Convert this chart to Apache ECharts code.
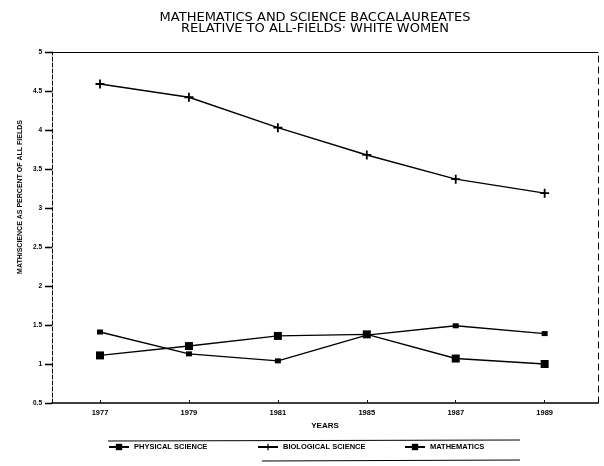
<!DOCTYPE html>
<html><head><meta charset="utf-8">
<script src="https://cdn.jsdelivr.net/npm/echarts@6/dist/echarts.min.js"></script>
<style>html,body{margin:0;padding:0;background:#fff}#c{width:604px;height:466px}</style>
</head><body><div id="c"></div>
<script>
const years = ['1977', '1979', '1981', '1985', '1987', '1989'];
const physicalScience = [1.11, 1.23, 1.36, 1.38, 1.07, 1.00];
const biologicalScience = [4.59, 4.42, 4.03, 3.68, 3.37, 3.19];
const mathematics = [1.41, 1.13, 1.04, 1.37, 1.49, 1.39];

// x positions: category index shifted by a left margin (in category units)
const X0 = 0.54, XMAX = 6.14;
const xPos = years.map((_, i) => i + X0);
const pairs = arr => arr.map((v, i) => [xPos[i], v]);
const plus = 'path://M4 0H6V4H10V6H6V10H4V6H0V4H4Z';
const F = 'Liberation Sans';
const chart = echarts.init(document.getElementById('c'), null, {renderer: 'canvas'});
const legendText = {fontFamily: F, fontSize: 7.5, fontWeight: 'bold', color: '#000'};
const mkLegend = (name, left) => ({
  data: [name], left: left, top: 443, itemWidth: 20, itemHeight: 8, itemGap: 4,
  textStyle: legendText, padding: 0, selectedMode: false
});
chart.setOption({
  animation: false,
  title: {
    text: 'MATHEMATICS AND SCIENCE BACCALAUREATES\nRELATIVE TO ALL-FIELDS· WHITE WOMEN',
    left: 310, textAlign: 'center', top: 7,
    textStyle: {fontFamily: 'DejaVu Sans', fontSize: 13, fontWeight: 'normal', color: '#000', lineHeight: 11}
  },
  legend: [
    mkLegend('PHYSICAL SCIENCE', 108),
    mkLegend('BIOLOGICAL SCIENCE', 257),
    mkLegend('MATHEMATICS', 404)
  ],
  grid: {left: 52, right: 6, top: 52, bottom: 63},
  xAxis: [{
    type: 'value', min: 0, max: XMAX,
    name: 'YEARS', nameLocation: 'middle', nameGap: 17,
    nameTextStyle: {fontFamily: F, fontSize: 8, fontWeight: 'bold', color: '#000'},
    axisLine: {lineStyle: {color: '#000', width: 1.5}},
    axisTick: {customValues: xPos, length: 3, inside: true, lineStyle: {color: '#000'}},
    axisLabel: {customValues: xPos, formatter: v => years[Math.round(v - X0)] || '',
      fontFamily: F, fontSize: 7.5, fontWeight: 'bold', color: '#000', margin: 6},
    splitLine: {show: false}
  }, {
    type: 'value', min: 0, max: XMAX, position: 'top',
    axisLine: {show: true, onZero: false, lineStyle: {color: '#000', width: 1.2}},
    axisTick: {show: false}, axisLabel: {show: false}, splitLine: {show: false}
  }],
  yAxis: [{
    type: 'value', min: 0.5, max: 5, interval: 0.5,
    axisLine: {show: true, lineStyle: {color: '#000', width: 1, type: 'dashed'}},
    axisTick: {show: true, inside: false, length: 7, lineStyle: {color: '#000', width: 1.3}},
    axisLabel: {fontFamily: F, fontSize: 6.5, fontWeight: 'bold', color: '#000', margin: 10},
    splitLine: {show: false}
  }, {
    type: 'value', min: 0.5, max: 5, position: 'right',
    axisLine: {show: true, onZero: false, lineStyle: {color: '#000', width: 1, type: [6, 5]}},
    axisTick: {show: false}, axisLabel: {show: false}, splitLine: {show: false}
  }, {
    type: 'value', min: 0.5, max: 5, interval: 0.5, position: 'left', offset: 0,
    axisLine: {show: false, onZero: false},
    axisTick: {show: true, inside: false, length: 7, lineStyle: {color: '#000', width: 1.3}},
    axisLabel: {show: false}, splitLine: {show: false}
  }],
  graphic: [
    {type: 'text', x: 20, y: 197, rotation: Math.PI / 2,
      style: {text: 'MATH/SCIENCE AS PERCENT OF ALL FIELDS', fontFamily: F, fontSize: 7, fontWeight: 'bold',
        fill: '#000', align: 'center', verticalAlign: 'middle'}},
    {type: 'line', shape: {x1: 108, y1: 441, x2: 520, y2: 440}, style: {stroke: '#000', lineWidth: 1}},
    {type: 'line', shape: {x1: 262, y1: 461, x2: 520, y2: 460}, style: {stroke: '#000', lineWidth: 1}}
  ],
  series: [
    {name: 'PHYSICAL SCIENCE', type: 'line', data: pairs(physicalScience), symbol: 'rect', symbolSize: 8,
      lineStyle: {color: '#000', width: 1.4}, itemStyle: {color: '#000'}},
    {name: 'BIOLOGICAL SCIENCE', type: 'line', data: pairs(biologicalScience), symbol: plus, symbolSize: 9,
      lineStyle: {color: '#000', width: 1.4}, itemStyle: {color: '#000'}},
    {name: 'MATHEMATICS', type: 'line', data: pairs(mathematics), symbol: 'rect', symbolSize: [6, 5],
      lineStyle: {color: '#000', width: 1.4}, itemStyle: {color: '#000'}}
  ]
});
</script></body></html>
